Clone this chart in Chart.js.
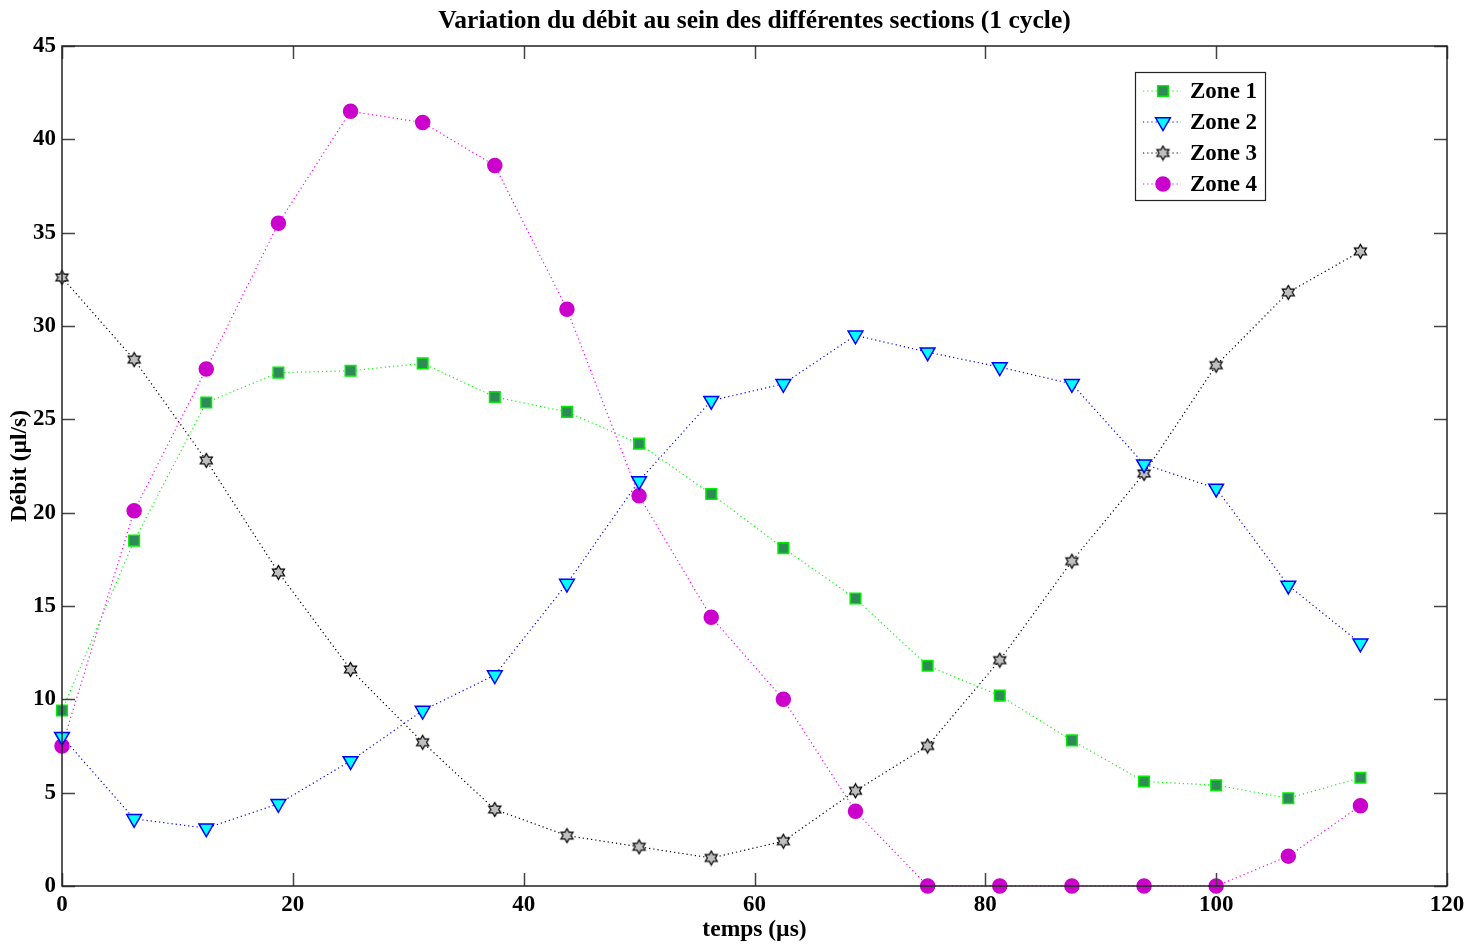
<!DOCTYPE html>
<html>
<head>
<meta charset="utf-8">
<script src="https://cdn.jsdelivr.net/npm/chart.js@4/dist/chart.umd.min.js"></script>
<style>
  html, body { margin: 0; padding: 0; background: #fff; }
  #box { width: 1474px; height: 945px; }
</style>
</head>
<body>
<div id="box"><canvas id="graphe"></canvas></div>
<script>
// temps (µs) et débit (µl/s) par zone
var temps = [0, 6.25, 12.5, 18.75, 25, 31.25, 37.5, 43.75, 50, 56.25, 62.5, 68.75, 75, 81.25, 87.5, 93.75, 100, 106.25, 112.5];
var zone1 = [9.4, 18.5, 25.9, 27.5, 27.6, 28.0, 26.2, 25.4, 23.7, 21.0, 18.1, 15.4, 11.8, 10.2, 7.8, 5.6, 5.4, 4.7, 5.8];
var zone2 = [8.0, 3.6, 3.1, 4.4, 6.7, 9.4, 11.3, 16.2, 21.7, 26.0, 26.9, 29.5, 28.6, 27.8, 26.9, 22.6, 21.3, 16.1, 13.0];
var zone3 = [32.6, 28.2, 22.8, 16.8, 11.6, 7.7, 4.1, 2.7, 2.1, 1.5, 2.4, 5.1, 7.5, 12.1, 17.4, 22.1, 27.9, 31.8, 34.0];
var zone4 = [7.5, 20.1, 27.7, 35.5, 41.5, 40.9, 38.6, 30.9, 20.9, 14.4, 10.0, 4.0, 0, 0, 0, 0, 0, 1.6, 4.3];
var noms = ['Zone 1', 'Zone 2', 'Zone 3', 'Zone 4'];
var ticksX = [0, 20, 40, 60, 80, 100, 120];
var ticksY = [0, 5, 10, 15, 20, 25, 30, 35, 40, 45];

var police = '"Liberation Serif", "Times New Roman", serif';

// étoile à six branches (marqueur hexagramme)
function etoile() {
	var c = document.createElement('canvas');
	c.width = 17; c.height = 17;
	var g = c.getContext('2d');
	var cx = 8.5, cy = 8.5, R = 7, r = 4;
	g.beginPath();
	for (var i = 0; i < 12; i++) {
		var a = -Math.PI / 2 + i * Math.PI / 6;
		var rr = (i % 2 == 0) ? R : r;
		var px = cx + Math.cos(a) * rr, py = cy + Math.sin(a) * rr;
		if (i == 0) g.moveTo(px, py); else g.lineTo(px, py);
	}
	g.closePath();
	g.fillStyle = '#c0c0c0';
	g.fill();
	g.lineWidth = 1.2;
	g.strokeStyle = '#000';
	g.stroke();
	return c;
}
var hexa = etoile();

function serie(nom, valeurs, trait, style) {
	var pts = [];
	for (var i = 0; i < temps.length; i++) pts.push({x: temps[i], y: valeurs[i]});
	return Object.assign({
		label: nom,
		data: pts,
		borderColor: trait,
		borderWidth: 1.2,
		borderDash: [1.2, 3],
		fill: false,
		tension: 0,
		clip: false,
		pointBorderWidth: 1.5,
		pointHoverRadius: 8
	}, style);
}

var series = [
	serie(noms[0], zone1, '#00ff00', {pointStyle: 'rect', pointRadius: 7.5, pointBackgroundColor: '#2e8b57', pointBorderColor: '#00ee00'}),
	serie(noms[1], zone2, '#0000ff', {pointStyle: 'triangle', pointRotation: 180, pointRadius: 8.5, pointBackgroundColor: '#00ffff', pointBorderColor: '#0000ff'}),
	serie(noms[2], zone3, '#000000', {pointStyle: hexa, pointRadius: 8}),
	serie(noms[3], zone4, '#ff00ff', {pointStyle: 'circle', pointRadius: 7, pointBackgroundColor: '#cc00cc', pointBorderColor: '#cc00cc'})
];

// cadre, graduations intérieures sur les 4 côtés et légende en haut à droite
var cadre = {
	id: 'cadre',
	afterDatasetsDraw: function(chart) {
		var ctx = chart.ctx, a = chart.chartArea;
		var sx = chart.scales.x, sy = chart.scales.y;
		var L = 13;
		ctx.save();
		ctx.strokeStyle = '#444';
		ctx.lineWidth = 1.5;
		ctx.beginPath();
		ticksX.forEach(function(v) {
			var p = Math.round(sx.getPixelForValue(v)) + 0.5;
			ctx.moveTo(p, a.bottom); ctx.lineTo(p, a.bottom - L);
			ctx.moveTo(p, a.top); ctx.lineTo(p, a.top + L);
		});
		ticksY.forEach(function(v) {
			var p = Math.round(sy.getPixelForValue(v)) + 0.5;
			ctx.moveTo(a.left, p); ctx.lineTo(a.left + L, p);
			ctx.moveTo(a.right, p); ctx.lineTo(a.right - L, p);
		});
		ctx.stroke();
		ctx.strokeStyle = '#222';
		ctx.lineWidth = 1.5;
		ctx.strokeRect(a.left, a.top, a.right - a.left, a.bottom - a.top);

		// légende
		var lx = 1135, ly = 72, lw = 130, lh = 128;
		ctx.fillStyle = '#fff';
		ctx.fillRect(lx, ly, lw, lh);
		ctx.strokeStyle = '#222';
		ctx.lineWidth = 1.2;
		ctx.strokeRect(lx + 0.5, ly + 0.5, lw, lh);
		chart.data.datasets.forEach(function(ds, i) {
			var y = ly + 19 + i * 31;
			ctx.save();
			ctx.strokeStyle = ds.borderColor;
			ctx.lineWidth = 1.2;
			ctx.setLineDash(ds.borderDash);
			ctx.beginPath();
			ctx.moveTo(lx + 8, y); ctx.lineTo(lx + 46, y);
			ctx.stroke();
			ctx.restore();

			ctx.save();
			ctx.fillStyle = ds.pointBackgroundColor || '#000';
			ctx.strokeStyle = ds.pointBorderColor || '#000';
			ctx.lineWidth = ds.pointBorderWidth;
			Chart.helpers.drawPoint(ctx, {
				pointStyle: ds.pointStyle,
				rotation: ds.pointRotation || 0,
				radius: ds.pointRadius,
				borderWidth: ds.pointBorderWidth
			}, lx + 28, y);
			ctx.restore();

			ctx.fillStyle = '#000';
			ctx.font = 'bold 23px ' + police;
			ctx.textAlign = 'left';
			ctx.textBaseline = 'middle';
			ctx.fillText(ds.label, lx + 55, y + 1);
		});
		ctx.restore();
	}
};

var graphe = new Chart(document.getElementById('graphe'), {
	type: 'line',
	data: { datasets: series },
	plugins: [cadre],
	options: {
		responsive: true,
		maintainAspectRatio: false,
		animation: false,
		layout: { padding: { left: 0, right: 27, top: 0, bottom: 0 } },
		plugins: {
			legend: { display: false },
			tooltip: { enabled: false },
			title: {
				display: true,
				fullSize: false,
				text: 'Variation du débit au sein des différentes sections (1 cycle)',
				color: '#000',
				font: { family: police, size: 25.5, weight: 'bold' },
				padding: { top: 5.7, bottom: 9.7 }
			}
		},
		scales: {
			x: {
				type: 'linear',
				min: 0, max: 120,
				afterBuildTicks: function(s) { s.ticks = ticksX.map(function(v) { return {value: v}; }); },
				afterFit: function(s) { s.height = 59; },
				grid: { display: false, drawTicks: false },
				border: { display: false },
				ticks: { color: '#000', padding: 5, maxRotation: 0, font: { family: police, size: 23, weight: 'bold' } },
				title: { display: true, text: 'temps (µs)', color: '#000', padding: { top: 0, bottom: 1 }, font: { family: police, size: 23.5, weight: 'bold' } }
			},
			y: {
				min: 0, max: 45,
				afterBuildTicks: function(s) { s.ticks = ticksY.map(function(v) { return {value: v}; }); },
				afterFit: function(s) { s.width = 62; },
				grid: { display: false, drawTicks: false },
				border: { display: false },
				ticks: { color: '#000', padding: 6, font: { family: police, size: 23, weight: 'bold' } },
				title: { display: true, text: 'Débit (µl/s)', color: '#000', padding: { top: 6, bottom: 0 }, font: { family: police, size: 23.5, weight: 'bold' } }
			}
		}
	}
});
</script>
</body>
</html>
